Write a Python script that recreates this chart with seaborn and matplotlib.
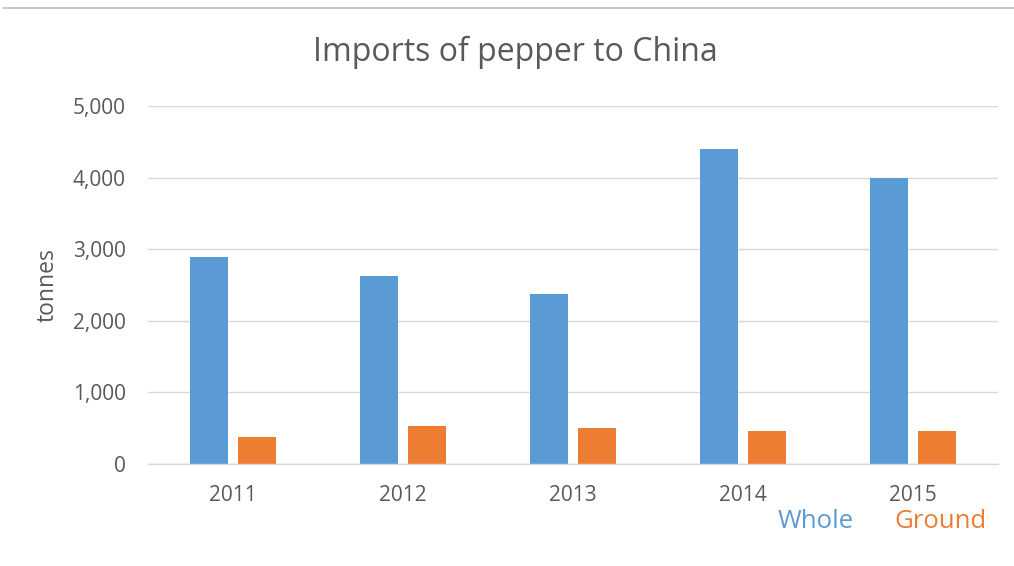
import matplotlib
matplotlib.use("Agg")
import matplotlib.pyplot as plt
import seaborn as sns
import pandas as pd
from matplotlib.ticker import FuncFormatter
from matplotlib.lines import Line2D

years = ["2011", "2012", "2013", "2014", "2015"]
whole = [2890, 2630, 2375, 4400, 4000]
ground = [380, 535, 500, 460, 460]
series = ["Whole", "Ground"]
colors = ["#5B9BD5", "#ED7D31"]

df = pd.DataFrame({
    "year": years * 2,
    "value": whole + ground,
    "type": [series[0]] * len(years) + [series[1]] * len(years),
})

sns.set_theme(style="white")
plt.rcParams["font.family"] = ["Open Sans", "DejaVu Sans"]
text_col = "#595959"

fig = plt.figure(figsize=(10.14, 5.66), dpi=100)
ax = fig.add_axes([148/1014, 1-464/566, (998-148)/1014, (464-106)/566])

sns.barplot(data=df, x="year", y="value", hue="type", palette=colors,
            width=0.565, gap=0.21, ax=ax, legend=False, saturation=1,
            edgecolor="none")

ax.set_ylim(0, 5000)
ax.set_yticks([0, 1000, 2000, 3000, 4000, 5000])
ax.yaxis.set_major_formatter(FuncFormatter(lambda v, p: f"{int(v):,}"))
ax.grid(axis="y", color="#d9d9d9", linewidth=1)
ax.set_axisbelow(True)
for s in ["top", "right", "left"]:
    ax.spines[s].set_visible(False)
ax.spines["bottom"].set_color("#d9d9d9")
ax.spines["bottom"].set_linewidth(1)
ax.tick_params(axis="both", length=0, colors=text_col, labelsize=15)
ax.tick_params(axis="y", pad=16)
ax.tick_params(axis="x", pad=15)
ax.set_xlabel("")
ax.set_ylabel("tonnes", color=text_col, fontsize=16.5)
ax.yaxis.set_label_coords(-0.1035, 0.5)

fig.text(515/1014, 1-52/566, "Imports of pepper to China", ha="center", va="center",
         fontsize=23, color=text_col)
fig.text(816/1014, 1-522/566, series[0], ha="center", va="center", fontsize=18.5, color=colors[0])
fig.text(940/1014, 1-522/566, series[1], ha="center", va="center", fontsize=18.5, color=colors[1])

fig.add_artist(Line2D([3/1014, 1], [1-8/566, 1-8/566], color="#bfbfbf", linewidth=1.2,
                      transform=fig.transFigure))

fig.savefig("out.png", dpi=100, facecolor="white")
